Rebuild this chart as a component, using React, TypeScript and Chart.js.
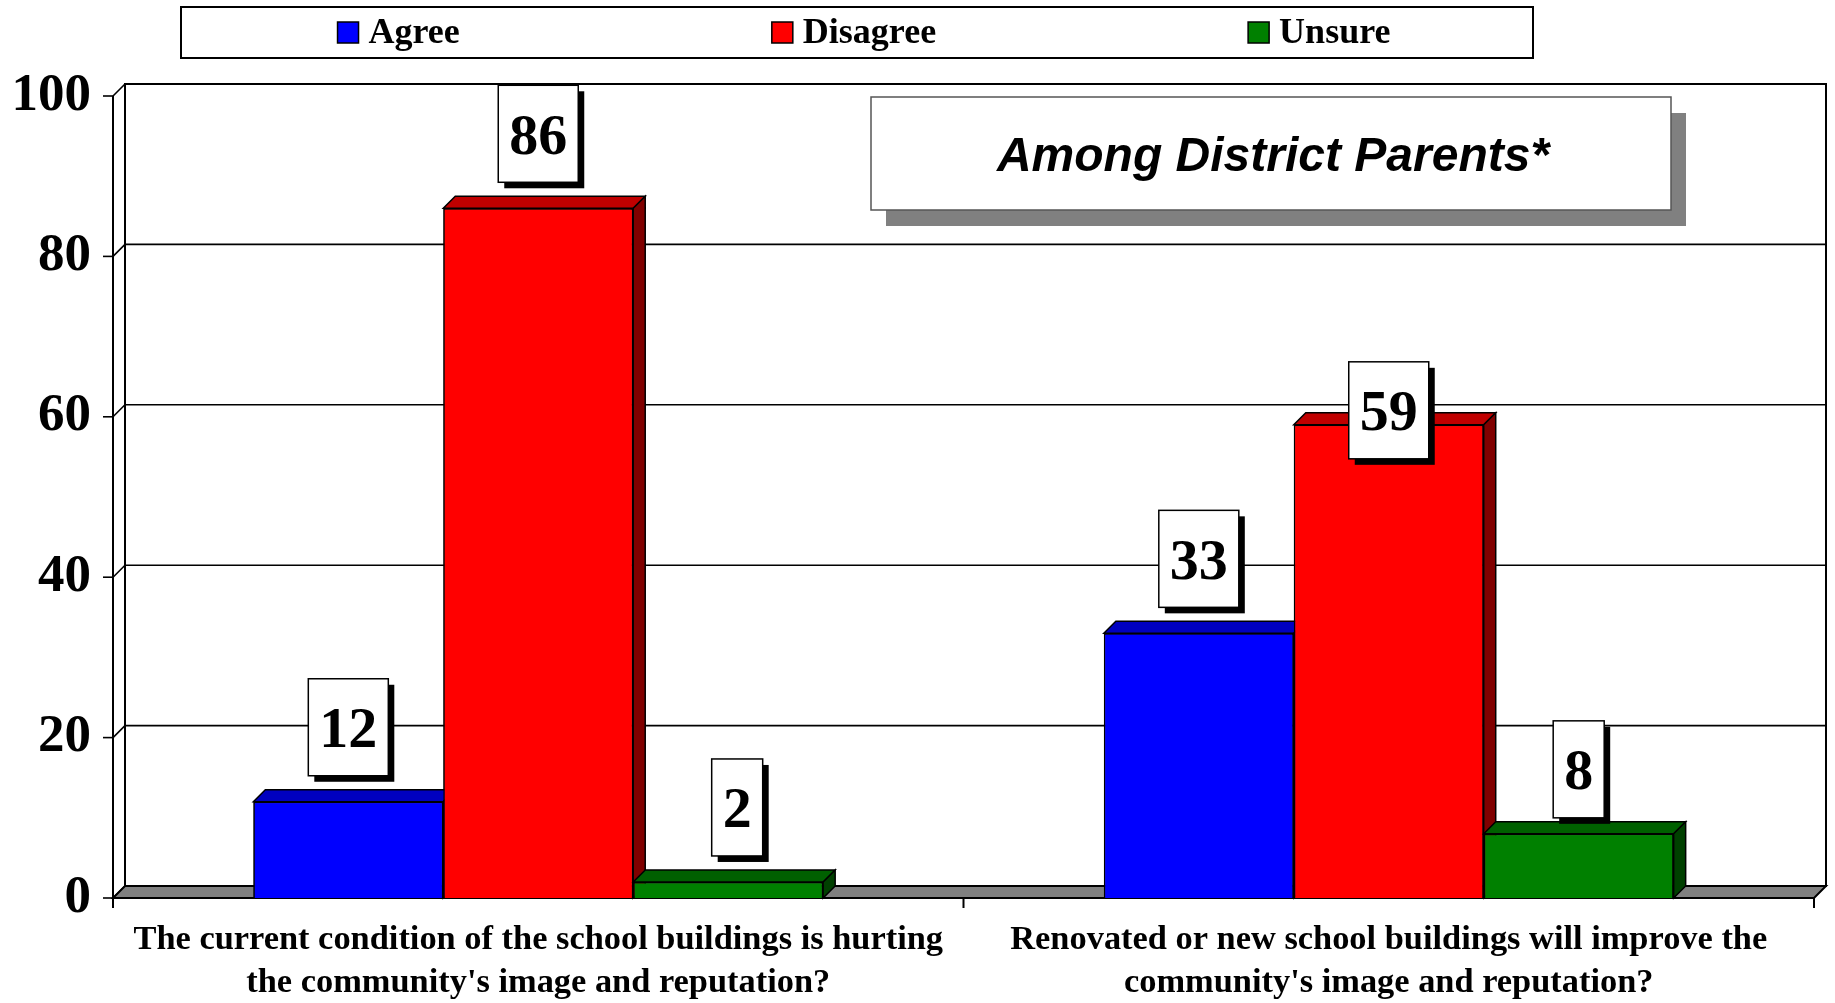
import React, { useEffect, useRef } from "react";
import { Chart, registerables } from "chart.js";

Chart.register(...registerables);

// ---------- data ----------
const categories: string[][] = [
  ["The current condition of the school buildings is hurting", "the community's image and reputation?"],
  ["Renovated or new school buildings will improve the", "community's image and reputation?"],
];
const seriesNames = ["Agree", "Disagree", "Unsure"];
const agreeValues = [12, 33];
const disagreeValues = [86, 59];
const unsureValues = [2, 8];
const yTickStep = 20;
const yMin = 0;
const yMax = 100;
const annotationText = "Among District Parents*";

// ---------- styles ----------
const frontColors = ["#0000FF", "#FF0000", "#008000"];
const topColors = ["#0000C0", "#C00000", "#006000"];
const sideColors = ["#000080", "#800000", "#004000"];
const DEPTH = 12;
const SERIF = '"Liberation Serif", "Times New Roman", serif';
const SANS = '"Liberation Sans", Arial, sans-serif';
// manual nudges of individual data labels ("dataset-index"), as placed in the reference
const labelNudgeY: Record<string, number> = { "1-1": 60, "2-1": 10 };
const labelNudgeX: Record<string, number> = { "2-0": 9 };

const threeD = {
  id: "threeD",
  beforeDatasetsDraw(chart: any) {
    const { ctx, chartArea } = chart;
    const { left, right, top, bottom } = chartArea;
    const y = chart.scales.y;
    const x = chart.scales.x;
    const D = DEPTH;
    ctx.save();
    ctx.lineJoin = "miter";
    // back wall
    ctx.fillStyle = "#FFFFFF";
    ctx.fillRect(left + D, top - D, right - left, bottom - top);
    ctx.strokeStyle = "#000";
    ctx.lineWidth = 2;
    ctx.strokeRect(left + D, top - D, right - left, bottom - top);
    // grid lines on back wall + left wall diagonals + ticks
    ctx.lineWidth = 1.6;
    for (let v = yMin; v <= yMax; v += yTickStep) {
      const py = y.getPixelForValue(v);
      if (v !== yMin && v !== yMax) {
        ctx.beginPath();
        ctx.moveTo(left + D, py - D);
        ctx.lineTo(right + D, py - D);
        ctx.stroke();
      }
      ctx.beginPath();
      ctx.moveTo(left, py);
      ctx.lineTo(left + D, py - D);
      ctx.stroke();
      ctx.beginPath();
      ctx.moveTo(left - 10, py);
      ctx.lineTo(left, py);
      ctx.stroke();
    }
    // front axis line
    ctx.lineWidth = 2;
    ctx.beginPath();
    ctx.moveTo(left, top);
    ctx.lineTo(left, bottom + 10);
    ctx.stroke();
    // floor
    ctx.beginPath();
    ctx.moveTo(left, bottom);
    ctx.lineTo(right, bottom);
    ctx.lineTo(right + D, bottom - D);
    ctx.lineTo(left + D, bottom - D);
    ctx.closePath();
    ctx.fillStyle = "#808080";
    ctx.fill();
    ctx.stroke();
    // category separator ticks
    const n = chart.data.labels.length;
    const xs: number[] = [left, right];
    for (let i = 0; i < n - 1; i++) {
      xs.push((x.getPixelForValue(i) + x.getPixelForValue(i + 1)) / 2);
    }
    ctx.lineWidth = 2;
    xs.forEach((px) => {
      ctx.beginPath();
      ctx.moveTo(px, bottom);
      ctx.lineTo(px, bottom + 10);
      ctx.stroke();
    });
    ctx.restore();
  },
  afterDatasetsDraw(chart: any) {
    const { ctx } = chart;
    const D = DEPTH;
    const nCat = chart.data.labels.length;
    const nDs = chart.data.datasets.length;
    // repaint bars left-to-right so each bar covers the side face of its left neighbour
    ctx.save();
    for (let j = 0; j < nCat; j++) {
      for (let i = 0; i < nDs; i++) {
        const bar = chart.getDatasetMeta(i).data[j];
        if (!bar) continue;
        bar.draw(ctx);
        const p = bar.getProps(["x", "y", "base", "width"], true);
        const L = p.x - p.width / 2;
        const R = p.x + p.width / 2;
        const T = p.y;
        const B = p.base;
        ctx.strokeStyle = "#000";
        ctx.lineWidth = 1.5;
        ctx.lineJoin = "miter";
        ctx.beginPath();
        ctx.moveTo(L, T);
        ctx.lineTo(R, T);
        ctx.lineTo(R + D, T - D);
        ctx.lineTo(L + D, T - D);
        ctx.closePath();
        ctx.fillStyle = topColors[i];
        ctx.fill();
        ctx.stroke();
        ctx.beginPath();
        ctx.moveTo(R, T);
        ctx.lineTo(R + D, T - D);
        ctx.lineTo(R + D, B - D);
        ctx.lineTo(R, B);
        ctx.closePath();
        ctx.fillStyle = sideColors[i];
        ctx.fill();
        ctx.stroke();
      }
    }
    ctx.restore();

    // data labels
    ctx.save();
    ctx.font = `bold 58px ${SERIF}`;
    chart.data.datasets.forEach((ds: any, di: number) => {
      const meta = chart.getDatasetMeta(di);
      meta.data.forEach((bar: any, j: number) => {
        const p = bar.getProps(["x", "y"], true);
        const text = String(ds.data[j]);
        const tw = ctx.measureText(text).width;
        const w = tw + 22;
        const h = 97;
        const key = `${di}-${j}`;
        const cx = p.x + (labelNudgeX[key] || 0);
        const bx = cx - w / 2;
        const by = p.y - 26 - h + (labelNudgeY[key] || 0);
        ctx.fillStyle = "#000";
        ctx.fillRect(bx + 6, by + 6, w, h);
        ctx.fillStyle = "#FFF";
        ctx.fillRect(bx, by, w, h);
        ctx.strokeStyle = "#000";
        ctx.lineWidth = 1.5;
        ctx.strokeRect(bx, by, w, h);
        ctx.fillStyle = "#000";
        ctx.textAlign = "center";
        ctx.textBaseline = "alphabetic";
        ctx.fillText(text, cx, by + h / 2 + 20);
      });
    });
    ctx.restore();
  },
  afterDraw(chart: any) {
    const { ctx } = chart;
    ctx.save();
    // annotation box
    const ax = 871, ay = 97, aw = 800, ah = 113;
    ctx.fillStyle = "#808080";
    ctx.fillRect(ax + 15, ay + 16, aw, ah);
    ctx.fillStyle = "#FFF";
    ctx.fillRect(ax, ay, aw, ah);
    ctx.strokeStyle = "#555";
    ctx.lineWidth = 1.5;
    ctx.strokeRect(ax, ay, aw, ah);
    ctx.fillStyle = "#000";
    ctx.font = `italic bold 48px ${SANS}`;
    ctx.textAlign = "center";
    ctx.textBaseline = "alphabetic";
    ctx.fillText(annotationText, ax + aw / 2 + 2, ay + ah / 2 + 17);

    // legend
    const lx = 181, ly = 7, lw = 1352, lh = 51;
    ctx.fillStyle = "#FFF";
    ctx.fillRect(lx, ly, lw, lh);
    ctx.strokeStyle = "#000";
    ctx.lineWidth = 2;
    ctx.strokeRect(lx, ly, lw, lh);
    ctx.font = `bold 36px ${SERIF}`;
    const sq = 21, sqGap = 10, gap = 312;
    const ds = chart.data.datasets;
    const widths = ds.map((d: any) => sq + sqGap + ctx.measureText(d.label).width);
    const total = widths.reduce((a: number, b: number) => a + b, 0) + gap * (ds.length - 1);
    let cx = lx + lw / 2 - total / 2 + 7;
    const cy = ly + lh / 2;
    ds.forEach((d: any, i: number) => {
      ctx.fillStyle = d.backgroundColor;
      ctx.fillRect(cx, cy - sq / 2, sq, sq);
      ctx.strokeStyle = "#000";
      ctx.lineWidth = 1.5;
      ctx.strokeRect(cx, cy - sq / 2, sq, sq);
      ctx.fillStyle = "#000";
      ctx.textAlign = "left";
      ctx.textBaseline = "middle";
      ctx.fillText(d.label, cx + sq + sqGap, cy + 1);
      cx += widths[i] + gap;
    });
    ctx.restore();
  },
};

export default function App() {
  const ref = useRef<HTMLCanvasElement>(null);
  useEffect(() => {
    document.body.style.margin = "0";
    document.body.style.overflow = "hidden";
    const valueSets = [agreeValues, disagreeValues, unsureValues];
    const chart = new Chart(ref.current as HTMLCanvasElement, {
      type: "bar",
      data: {
        labels: categories,
        datasets: seriesNames.map((name, i) => ({
          label: name,
          data: valueSets[i],
          backgroundColor: frontColors[i],
          borderColor: "#000",
          borderWidth: 1.5,
          categoryPercentage: 0.67,
          barPercentage: 1.0,
        })),
      },
      options: {
        responsive: false,
        animation: false,
        layout: { padding: { top: 96, right: 21, bottom: 0, left: 0 } },
        plugins: {
          legend: { display: false },
          tooltip: { enabled: false },
          title: { display: false },
        },
        scales: {
          x: {
            type: "category",
            offset: true,
            grid: { display: false, drawTicks: false },
            border: { display: false },
            ticks: {
              color: "#000",
              font: { family: SERIF, size: 34.4, weight: "bold", lineHeight: 1.27 },
              padding: 20,
              maxRotation: 0,
              autoSkip: false,
            },
            afterFit: (s: any) => {
              s.height = 105;
            },
          },
          y: {
            min: yMin,
            max: yMax,
            grid: { display: false, drawTicks: false },
            border: { display: false },
            ticks: {
              stepSize: yTickStep,
              color: "#000",
              font: { family: SERIF, size: 53, weight: "bold" },
              padding: 22,
            },
            afterFit: (s: any) => {
              s.width = 113;
            },
          },
        },
      } as any,
      plugins: [threeD],
    });
    return () => chart.destroy();
  }, []);
  return (
    <div style={{ width: 1835, height: 1003, background: "#FFF" }}>
      <canvas ref={ref} width={1835} height={1003} style={{ display: "block" }} />
    </div>
  );
}
